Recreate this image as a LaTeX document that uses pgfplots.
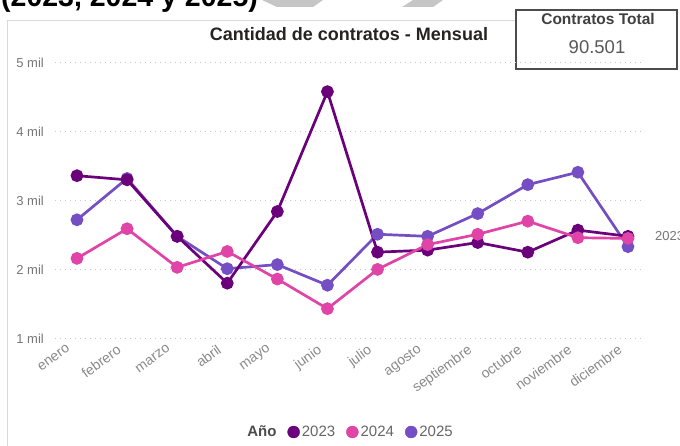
\documentclass[border=0pt]{standalone}
\usepackage{fontspec}
\setmainfont{Liberation Sans}
\usepackage{pgfplots}
\pgfplotsset{compat=1.18}
\definecolor{c23}{HTML}{6B007B}
\definecolor{c24}{HTML}{E044A7}
\definecolor{c25}{HTML}{744EC2}
\definecolor{gridc}{HTML}{C8C8C8}
\definecolor{xtc}{HTML}{8A8A8A}
\definecolor{ytc}{HTML}{777777}
\definecolor{legc}{HTML}{666666}
\definecolor{wm}{HTML}{C6C6C6}
\definecolor{panelc}{HTML}{D9D9D9}
\definecolor{titc}{HTML}{252423}
\begin{document}
\begin{tikzpicture}
\useasboundingbox (0pt,0pt) rectangle (680pt,445pt);
\begin{scope}[x=1pt,y=1pt]
\fill[white] (0,0) rectangle (680,445);
% watermark fragments
\fill[wm] (262,445) -- (323,445) -- (313,438) -- (277,438) -- cycle;
\fill[wm] (402,438) -- (413,445) -- (443,445) -- (433,438) -- cycle;
% heading (cut off at top)
\node[anchor=base west, inner sep=0, font=\fontsize{28.5}{30}\selectfont\bfseries] at (1,438.5) {(2023, 2024 y 2025)};
% panel border
\draw[panelc, line width=1.2] (7.5,-2) -- (7.5,424.3) -- (516,424.3);
% title
\node[font=\fontsize{18}{20}\selectfont\bfseries, text=titc] at (349,411) {Cantidad de contratos - Mensual};
% card
\draw[fill=white, draw=black!70, line width=1.3] (516,435) rectangle (677,376);
\node[font=\fontsize{15.5}{17}\selectfont\bfseries, text=black!75] at (598,426) {Contratos Total};
\node[font=\fontsize{18.5}{20}\selectfont, text=black!65] at (597,398) {90.501};
\end{scope}

\begin{axis}[
  at={(55pt,106.7pt)}, anchor=south west,
  scale only axis, width=590pt, height=275.6pt,
  xmin=-0.439, xmax=11.34, ymin=1000, ymax=5000,
  clip=false,
  axis line style={draw=none},
  major tick style={draw=none},
  ytick={1000,2000,3000,4000,5000},
  yticklabels={1 mil,2 mil,3 mil,4 mil,5 mil},
  xtick={0,1,2,3,4,5,6,7,8,9,10,11},
  xticklabels={enero,febrero,marzo,abril,mayo,junio,julio,agosto,septiembre,octubre,noviembre,diciembre},
  ymajorgrids,
  grid style={gridc, line width=1.2pt, dash pattern=on 1.2pt off 3.8pt},
  yticklabel style={font=\fontsize{13}{15}\selectfont, text=ytc, anchor=east, inner sep=0pt, xshift=-11pt},
  xticklabel style={xshift=-11pt, yshift=-5.5pt, font=\fontsize{14}{16}\selectfont, text=xtc, rotate=36, anchor=north east, inner sep=0pt},
  legend style={at={(0.5,-0.34)}, anchor=center, draw=none, fill=none,
    font=\fontsize{15}{17}\selectfont, text=legc,
    /tikz/every even column/.append style={column sep=9pt},
    inner sep=0pt},
  legend columns=-1,
  legend cell align=left,
]
\addplot[c25, line width=2.7pt, mark=*, mark size=5pt, forget plot] coordinates {
(0,2720)(1,3320)(2,2480)(3,2010)(4,2070)(5,1770)(6,2510)(7,2480)(8,2810)(9,3230)(10,3410)(11,2330)};
\addplot[c23, line width=2.7pt, mark=*, mark size=5pt, forget plot] coordinates {
(0,3360)(1,3300)(2,2480)(3,1800)(4,2840)(5,4580)(6,2250)(7,2280)(8,2390)(9,2250)(10,2570)(11,2480)};
\addplot[c24, line width=2.7pt, mark=*, mark size=5pt, forget plot] coordinates {
(0,2160)(1,2590)(2,2030)(3,2260)(4,1860)(5,1430)(6,2000)(7,2360)(8,2510)(9,2700)(10,2460)(11,2450)};

\addlegendimage{empty legend}
\addlegendentry{\textcolor{black!70}{\textbf{Año}}}
\addlegendimage{legend image code/.code={\fill[c23] (6pt,0) circle (6pt);}}
\addlegendentry{2023}
\addlegendimage{legend image code/.code={\fill[c24] (6pt,0) circle (6pt);}}
\addlegendentry{2024}
\addlegendimage{legend image code/.code={\fill[c25] (6pt,0) circle (6pt);}}
\addlegendentry{2025}

\node[anchor=west, inner sep=0pt, font=\fontsize{13}{15}\selectfont, text=ytc] at (axis cs:11,2480) [xshift=27pt] {2023};
\end{axis}
\end{tikzpicture}
\end{document}
